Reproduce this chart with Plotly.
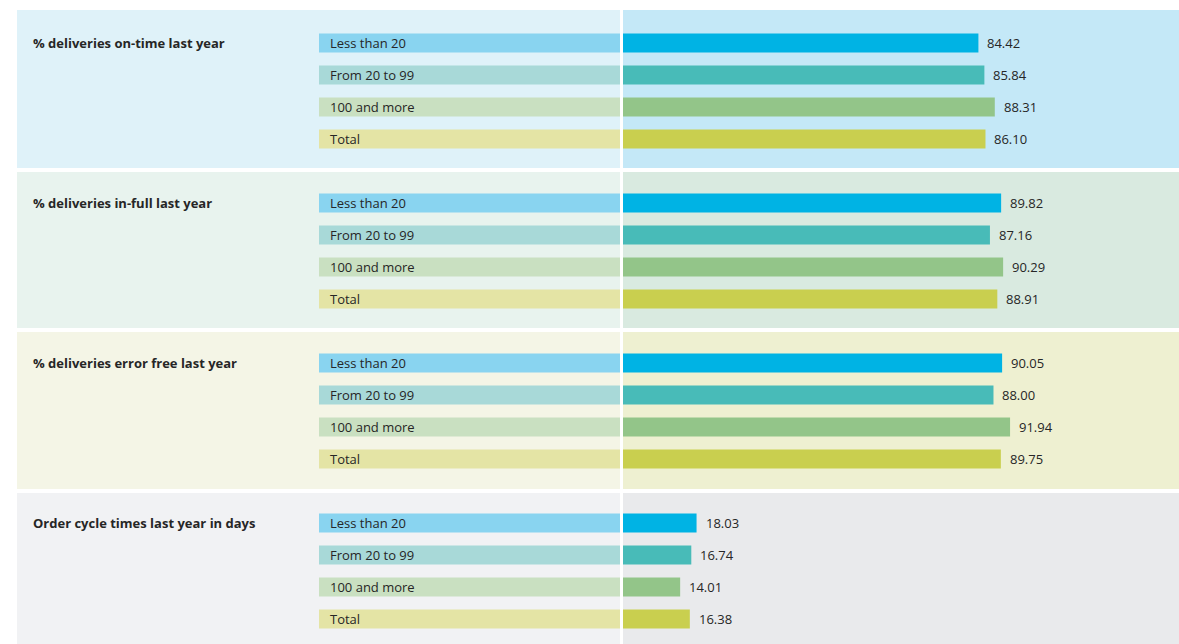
import plotly.graph_objects as go

# ---------------- data ----------------
categories = ["Less than 20", "From 20 to 99", "100 and more", "Total"]
panel_titles = [
    "% deliveries on-time last year",
    "% deliveries in-full last year",
    "% deliveries error free last year",
    "Order cycle times last year in days",
]
on_time = [84.42, 85.84, 88.31, 86.10]
in_full = [89.82, 87.16, 90.29, 88.91]
error_free = [90.05, 88.00, 91.94, 89.75]
cycle_days = [18.03, 16.74, 14.01, 16.38]
panel_values = [on_time, in_full, error_free, cycle_days]

# ---------------- style ----------------
W, H = 1179, 644
FONT = "Open Sans"
TXT = "#262626"
bar_colors = ["#00b3e4", "#48bbb8", "#93c589", "#c9cf4f"]
label_colors = ["#89d4f0", "#a8d9d8", "#c9e0c1", "#e4e4a5"]
bg_left = ["#dff2f9", "#e8f3ee", "#f4f5e6", "#f1f2f4"]
bg_right = ["#c4e8f7", "#d9eae0", "#eef0d1", "#e9eaec"]

# panel pixel geometry (top, bottom) and first row centre
panels_px = [(10, 168), (172, 328), (332, 489), (493, 644)]
first_row_px = [43, 203, 363, 523]
row_step = 32.0
px_per_unit = [4.21, 4.21, 4.21, 4.08]

left_x0, left_x1 = 17, 620
right_x0 = 623
label_x0 = 319
label_text_x = 330
title_x = 33

fig = go.Figure()
layout = dict(
    width=W, height=H,
    margin=dict(l=0, r=0, t=0, b=0),
    paper_bgcolor="white",
    plot_bgcolor="rgba(0,0,0,0)",
    showlegend=False,
    barmode="overlay",
    font=dict(family=FONT, size=13, color=TXT),
)
shapes = []
annotations = []

for k in range(4):
    top, bot = panels_px[k]
    ysuf = "" if k == 0 else str(k + 1)
    yname = "y" + ysuf
    xd = "x" + ("" if k == 0 else str(k + 1))       # data axis
    xl = "x" + str(k + 5)                            # label axis
    c0 = first_row_px[k]
    y_top = -(c0 - top) / row_step
    y_bot = (len(categories) - 1) + (bot - (c0 + row_step * (len(categories) - 1))) / row_step

    layout["yaxis" + ysuf] = dict(
        domain=[1 - bot / H, 1 - top / H],
        type="category", categoryorder="array", categoryarray=categories,
        range=[y_bot, y_top], autorange=False, visible=False,
        fixedrange=True,
    )
    xmax = (W - right_x0) / px_per_unit[k]
    layout["xaxis" + ("" if k == 0 else str(k + 1))] = dict(
        domain=[right_x0 / W, 1], range=[0, xmax], anchor=yname,
        visible=False, fixedrange=True,
    )
    layout["xaxis" + str(k + 5)] = dict(
        domain=[label_x0 / W, left_x1 / W], range=[0, 1], anchor=yname,
        visible=False, fixedrange=True,
    )

    # backgrounds
    shapes.append(dict(type="rect", xref="paper", yref=yname + " domain",
                       x0=left_x0 / W, x1=left_x1 / W, y0=0, y1=1,
                       fillcolor=bg_left[k], line=dict(width=0), layer="below"))
    shapes.append(dict(type="rect", xref="paper", yref=yname + " domain",
                       x0=right_x0 / W, x1=1, y0=0, y1=1,
                       fillcolor=bg_right[k], line=dict(width=0), layer="below"))

    # label bars (full width of label column)
    fig.add_trace(go.Bar(
        x=[1] * len(categories), y=categories, orientation="h",
        marker=dict(color=label_colors, line=dict(width=0)), width=0.6,
        xaxis=xl, yaxis=yname, hoverinfo="skip",
    ))
    # data bars
    vals = panel_values[k]
    fig.add_trace(go.Bar(
        x=vals, y=categories, orientation="h",
        marker=dict(color=bar_colors, line=dict(width=0)), width=0.6,
        xaxis=xd, yaxis=yname, hoverinfo="x+y",
    ))

    # value labels
    for cat, v in zip(categories, vals):
        annotations.append(dict(
            x=v, y=cat, xref=xd, yref=yname, text=f"{v:.2f}",
            xanchor="left", yanchor="middle", xshift=7, showarrow=False,
            font=dict(family=FONT, size=13, color=TXT),
        ))
        annotations.append(dict(
            x=label_text_x / W, y=cat, xref="paper", yref=yname, text=cat,
            xanchor="left", yanchor="middle", xshift=-2, showarrow=False,
            font=dict(family=FONT, size=13, color=TXT),
        ))
    # panel title
    annotations.append(dict(
        x=title_x / W, y=categories[0], xref="paper", yref=yname,
        text="<b>" + panel_titles[k] + "</b>",
        xanchor="left", yanchor="middle", xshift=-2, showarrow=False,
        font=dict(family=FONT, size=13, color=TXT),
    ))

layout["shapes"] = shapes
layout["annotations"] = annotations
fig.update_layout(**layout)
fig.write_html(
    "out.html",
    config={"displayModeBar": False},
    post_script="document.body.style.margin='0';document.body.style.padding='0';"
                "document.body.style.overflow='hidden';",
)
